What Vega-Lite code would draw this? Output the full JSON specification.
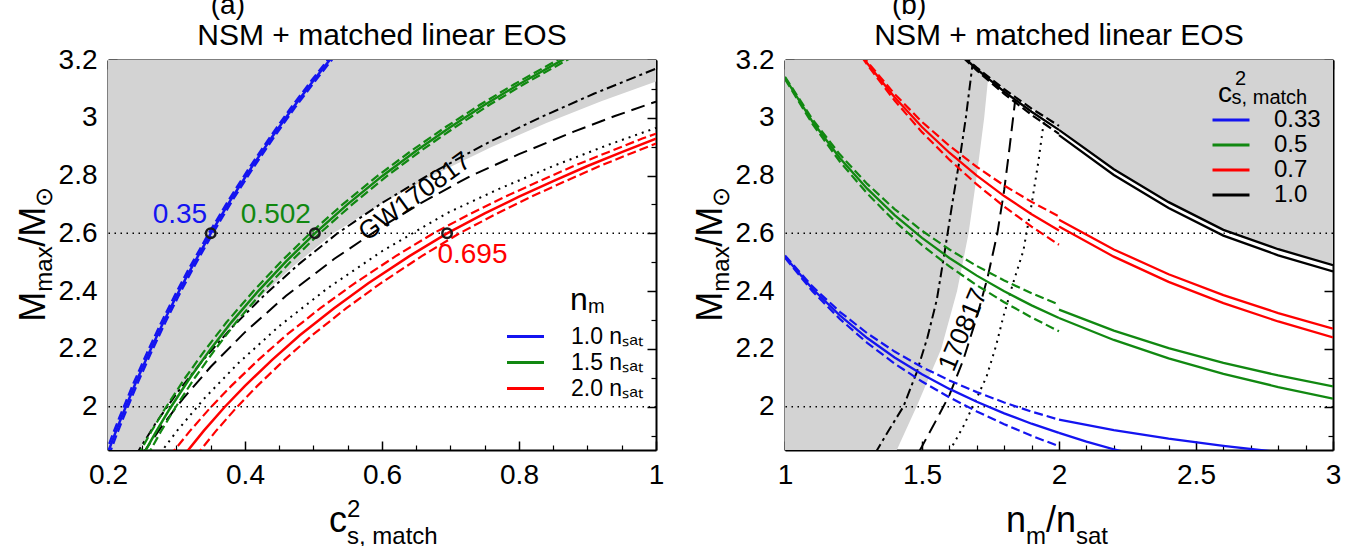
{
"$schema":"https://vega.github.io/schema/vega-lite/v6.json",
"autosize":{"type":"none"},
"padding":{"left":108,"top":60,"right":1263,"bottom":486},
"background":"white",
"spacing":129,
"bounds":"flush",
"config":{
 "font":"Liberation Sans",
 "view":{"stroke":null},
 "axis":{"grid":false,"tickColor":"black","domainColor":"black","labelColor":"black","labelFont":"Liberation Sans","labelFontSize":28,"labelFlush":false,"labelOverlap":false,"zindex":1},
 "legend":{"labelFont":"Liberation Sans","labelColor":"black"}
},
"resolve":{"scale":{"color":"independent","x":"independent","y":"independent","strokeDash":"independent"}},
"datasets":{
"curvesA":[
{"nm":"1.0","band":"c","x":0.198,"y":1.829},{"nm":"1.0","band":"c","x":0.21,"y":1.905},{"nm":"1.0","band":"c","x":0.22,"y":1.965},{"nm":"1.0","band":"c","x":0.24,"y":2.080},{"nm":"1.0","band":"c","x":0.26,"y":2.187},{"nm":"1.0","band":"c","x":0.28,"y":2.288},{"nm":"1.0","band":"c","x":0.30,"y":2.383},{"nm":"1.0","band":"c","x":0.32,"y":2.473},{"nm":"1.0","band":"c","x":0.35,"y":2.600},{"nm":"1.0","band":"c","x":0.38,"y":2.719},{"nm":"1.0","band":"c","x":0.41,"y":2.830},{"nm":"1.0","band":"c","x":0.44,"y":2.935},{"nm":"1.0","band":"c","x":0.47,"y":3.035},{"nm":"1.0","band":"c","x":0.50,"y":3.129},{"nm":"1.0","band":"c","x":0.53,"y":3.219},
{"nm":"1.0","band":"u","x":0.195,"y":1.829},{"nm":"1.0","band":"u","x":0.207,"y":1.905},{"nm":"1.0","band":"u","x":0.217,"y":1.965},{"nm":"1.0","band":"u","x":0.237,"y":2.080},{"nm":"1.0","band":"u","x":0.257,"y":2.187},{"nm":"1.0","band":"u","x":0.277,"y":2.288},{"nm":"1.0","band":"u","x":0.297,"y":2.383},{"nm":"1.0","band":"u","x":0.317,"y":2.473},{"nm":"1.0","band":"u","x":0.347,"y":2.600},{"nm":"1.0","band":"u","x":0.377,"y":2.719},{"nm":"1.0","band":"u","x":0.407,"y":2.830},{"nm":"1.0","band":"u","x":0.437,"y":2.935},{"nm":"1.0","band":"u","x":0.467,"y":3.035},{"nm":"1.0","band":"u","x":0.497,"y":3.129},{"nm":"1.0","band":"u","x":0.527,"y":3.219},
{"nm":"1.0","band":"l","x":0.201,"y":1.829},{"nm":"1.0","band":"l","x":0.213,"y":1.905},{"nm":"1.0","band":"l","x":0.223,"y":1.965},{"nm":"1.0","band":"l","x":0.243,"y":2.080},{"nm":"1.0","band":"l","x":0.263,"y":2.187},{"nm":"1.0","band":"l","x":0.283,"y":2.288},{"nm":"1.0","band":"l","x":0.303,"y":2.383},{"nm":"1.0","band":"l","x":0.323,"y":2.473},{"nm":"1.0","band":"l","x":0.353,"y":2.600},{"nm":"1.0","band":"l","x":0.383,"y":2.719},{"nm":"1.0","band":"l","x":0.413,"y":2.830},{"nm":"1.0","band":"l","x":0.443,"y":2.935},{"nm":"1.0","band":"l","x":0.473,"y":3.035},{"nm":"1.0","band":"l","x":0.503,"y":3.129},{"nm":"1.0","band":"l","x":0.533,"y":3.219},
{"nm":"1.5","band":"c","x":0.25,"y":1.828},{"nm":"1.5","band":"c","x":0.27,"y":1.913},{"nm":"1.5","band":"c","x":0.29,"y":1.992},{"nm":"1.5","band":"c","x":0.32,"y":2.101},{"nm":"1.5","band":"c","x":0.35,"y":2.200},{"nm":"1.5","band":"c","x":0.38,"y":2.292},{"nm":"1.5","band":"c","x":0.42,"y":2.402},{"nm":"1.5","band":"c","x":0.46,"y":2.503},{"nm":"1.5","band":"c","x":0.502,"y":2.600},{"nm":"1.5","band":"c","x":0.55,"y":2.701},{"nm":"1.5","band":"c","x":0.60,"y":2.798},{"nm":"1.5","band":"c","x":0.65,"y":2.886},{"nm":"1.5","band":"c","x":0.70,"y":2.968},{"nm":"1.5","band":"c","x":0.75,"y":3.045},{"nm":"1.5","band":"c","x":0.80,"y":3.116},{"nm":"1.5","band":"c","x":0.87,"y":3.209},
{"nm":"1.5","band":"u","x":0.243,"y":1.828},{"nm":"1.5","band":"u","x":0.263,"y":1.913},{"nm":"1.5","band":"u","x":0.283,"y":1.992},{"nm":"1.5","band":"u","x":0.313,"y":2.101},{"nm":"1.5","band":"u","x":0.343,"y":2.200},{"nm":"1.5","band":"u","x":0.373,"y":2.292},{"nm":"1.5","band":"u","x":0.413,"y":2.402},{"nm":"1.5","band":"u","x":0.453,"y":2.503},{"nm":"1.5","band":"u","x":0.495,"y":2.600},{"nm":"1.5","band":"u","x":0.543,"y":2.701},{"nm":"1.5","band":"u","x":0.593,"y":2.798},{"nm":"1.5","band":"u","x":0.643,"y":2.886},{"nm":"1.5","band":"u","x":0.693,"y":2.968},{"nm":"1.5","band":"u","x":0.743,"y":3.045},{"nm":"1.5","band":"u","x":0.793,"y":3.116},{"nm":"1.5","band":"u","x":0.863,"y":3.209},
{"nm":"1.5","band":"l","x":0.257,"y":1.828},{"nm":"1.5","band":"l","x":0.277,"y":1.913},{"nm":"1.5","band":"l","x":0.297,"y":1.992},{"nm":"1.5","band":"l","x":0.327,"y":2.101},{"nm":"1.5","band":"l","x":0.357,"y":2.200},{"nm":"1.5","band":"l","x":0.387,"y":2.292},{"nm":"1.5","band":"l","x":0.427,"y":2.402},{"nm":"1.5","band":"l","x":0.467,"y":2.503},{"nm":"1.5","band":"l","x":0.509,"y":2.600},{"nm":"1.5","band":"l","x":0.557,"y":2.701},{"nm":"1.5","band":"l","x":0.607,"y":2.798},{"nm":"1.5","band":"l","x":0.657,"y":2.886},{"nm":"1.5","band":"l","x":0.707,"y":2.968},{"nm":"1.5","band":"l","x":0.757,"y":3.045},{"nm":"1.5","band":"l","x":0.807,"y":3.116},{"nm":"1.5","band":"l","x":0.877,"y":3.209},
{"nm":"2.0","band":"c","x":0.31,"y":1.829},{"nm":"2.0","band":"c","x":0.34,"y":1.917},{"nm":"2.0","band":"c","x":0.37,"y":1.998},{"nm":"2.0","band":"c","x":0.40,"y":2.072},{"nm":"2.0","band":"c","x":0.44,"y":2.163},{"nm":"2.0","band":"c","x":0.48,"y":2.247},{"nm":"2.0","band":"c","x":0.53,"y":2.341},{"nm":"2.0","band":"c","x":0.58,"y":2.427},{"nm":"2.0","band":"c","x":0.64,"y":2.521},{"nm":"2.0","band":"c","x":0.695,"y":2.600},{"nm":"2.0","band":"c","x":0.75,"y":2.669},{"nm":"2.0","band":"c","x":0.80,"y":2.727},{"nm":"2.0","band":"c","x":0.85,"y":2.781},{"nm":"2.0","band":"c","x":0.90,"y":2.833},{"nm":"2.0","band":"c","x":0.95,"y":2.881},{"nm":"2.0","band":"c","x":1.0,"y":2.928},
{"nm":"2.0","band":"u","x":0.29,"y":1.829},{"nm":"2.0","band":"u","x":0.32,"y":1.917},{"nm":"2.0","band":"u","x":0.35,"y":1.998},{"nm":"2.0","band":"u","x":0.38,"y":2.072},{"nm":"2.0","band":"u","x":0.42,"y":2.163},{"nm":"2.0","band":"u","x":0.46,"y":2.247},{"nm":"2.0","band":"u","x":0.51,"y":2.341},{"nm":"2.0","band":"u","x":0.56,"y":2.427},{"nm":"2.0","band":"u","x":0.62,"y":2.521},{"nm":"2.0","band":"u","x":0.675,"y":2.600},{"nm":"2.0","band":"u","x":0.73,"y":2.669},{"nm":"2.0","band":"u","x":0.78,"y":2.727},{"nm":"2.0","band":"u","x":0.83,"y":2.781},{"nm":"2.0","band":"u","x":0.88,"y":2.833},{"nm":"2.0","band":"u","x":0.93,"y":2.881},{"nm":"2.0","band":"u","x":0.98,"y":2.928},{"nm":"2.0","band":"u","x":1.0,"y":2.945},
{"nm":"2.0","band":"l","x":0.328,"y":1.829},{"nm":"2.0","band":"l","x":0.358,"y":1.917},{"nm":"2.0","band":"l","x":0.388,"y":1.998},{"nm":"2.0","band":"l","x":0.418,"y":2.072},{"nm":"2.0","band":"l","x":0.458,"y":2.163},{"nm":"2.0","band":"l","x":0.498,"y":2.247},{"nm":"2.0","band":"l","x":0.548,"y":2.341},{"nm":"2.0","band":"l","x":0.598,"y":2.427},{"nm":"2.0","band":"l","x":0.658,"y":2.521},{"nm":"2.0","band":"l","x":0.713,"y":2.600},{"nm":"2.0","band":"l","x":0.768,"y":2.669},{"nm":"2.0","band":"l","x":0.818,"y":2.727},{"nm":"2.0","band":"l","x":0.868,"y":2.781},{"nm":"2.0","band":"l","x":0.918,"y":2.833},{"nm":"2.0","band":"l","x":0.968,"y":2.881},{"nm":"2.0","band":"l","x":1.0,"y":2.911}
],
"gwA":[
{"line":"dd","x":0.24,"y":1.830},{"line":"dd","x":0.27,"y":1.944},{"line":"dd","x":0.30,"y":2.045},{"line":"dd","x":0.34,"y":2.165},{"line":"dd","x":0.38,"y":2.272},{"line":"dd","x":0.43,"y":2.390},{"line":"dd","x":0.48,"y":2.496},{"line":"dd","x":0.535,"y":2.600},{"line":"dd","x":0.60,"y":2.705},{"line":"dd","x":0.67,"y":2.805},{"line":"dd","x":0.75,"y":2.908},{"line":"dd","x":0.83,"y":3.000},{"line":"dd","x":0.91,"y":3.084},{"line":"dd","x":1.0,"y":3.170},
{"line":"ld","x":0.25,"y":1.835},{"line":"ld","x":0.28,"y":1.937},{"line":"ld","x":0.31,"y":2.029},{"line":"ld","x":0.35,"y":2.138},{"line":"ld","x":0.40,"y":2.258},{"line":"ld","x":0.46,"y":2.384},{"line":"ld","x":0.53,"y":2.511},{"line":"ld","x":0.60,"y":2.623},{"line":"ld","x":0.66,"y":2.709},{"line":"ld","x":0.728,"y":2.797},{"line":"ld","x":0.80,"y":2.874},{"line":"ld","x":0.88,"y":2.952},{"line":"ld","x":0.94,"y":3.006},{"line":"ld","x":1.0,"y":3.056},
{"line":"dt","x":0.27,"y":1.819},{"line":"dt","x":0.30,"y":1.914},{"line":"dt","x":0.34,"y":2.027},{"line":"dt","x":0.39,"y":2.150},{"line":"dt","x":0.45,"y":2.279},{"line":"dt","x":0.52,"y":2.409},{"line":"dt","x":0.60,"y":2.538},{"line":"dt","x":0.695,"y":2.670},{"line":"dt","x":0.77,"y":2.753},{"line":"dt","x":0.85,"y":2.833},{"line":"dt","x":0.93,"y":2.906},{"line":"dt","x":1.0,"y":2.965}
],
"grayA":[
{"x":0.2,"y":1.653},{"x":0.245,"y":1.850},{"x":0.28,"y":1.980},{"x":0.32,"y":2.110},{"x":0.37,"y":2.252},{"x":0.42,"y":2.375},{"x":0.47,"y":2.485},{"x":0.529,"y":2.600},{"x":0.60,"y":2.704},{"x":0.68,"y":2.807},{"x":0.76,"y":2.899},{"x":0.84,"y":2.982},{"x":0.92,"y":3.057},{"x":1.0,"y":3.126}
],
"curvesB":[
{"c2":"0.33","band":"c","x":1.0,"y":2.519},{"c2":"0.33","band":"c","x":1.1,"y":2.408},{"c2":"0.33","band":"c","x":1.2,"y":2.316},{"c2":"0.33","band":"c","x":1.3,"y":2.2375},{"c2":"0.33","band":"c","x":1.4,"y":2.170},{"c2":"0.33","band":"c","x":1.5,"y":2.112},{"c2":"0.33","band":"c","x":1.6,"y":2.0615},{"c2":"0.33","band":"c","x":1.7,"y":2.017},{"c2":"0.33","band":"c","x":1.8,"y":1.977},{"c2":"0.33","band":"c","x":1.9,"y":1.941},{"c2":"0.33","band":"c","x":2.0,"y":1.909},
{"c2":"0.33","band":"u","x":1.0,"y":2.523},{"c2":"0.33","band":"u","x":1.1,"y":2.4162},{"c2":"0.33","band":"u","x":1.2,"y":2.3284},{"c2":"0.33","band":"u","x":1.3,"y":2.2541},{"c2":"0.33","band":"u","x":1.4,"y":2.1908},{"c2":"0.33","band":"u","x":1.5,"y":2.137},{"c2":"0.33","band":"u","x":1.6,"y":2.0907},{"c2":"0.33","band":"u","x":1.7,"y":2.0504},{"c2":"0.33","band":"u","x":1.8,"y":2.0146},{"c2":"0.33","band":"u","x":1.9,"y":1.9828},{"c2":"0.33","band":"u","x":2.0,"y":1.955},
{"c2":"0.33","band":"l","x":1.0,"y":2.515},{"c2":"0.33","band":"l","x":1.1,"y":2.3998},{"c2":"0.33","band":"l","x":1.2,"y":2.3036},{"c2":"0.33","band":"l","x":1.3,"y":2.2209},{"c2":"0.33","band":"l","x":1.4,"y":2.1492},{"c2":"0.33","band":"l","x":1.5,"y":2.087},{"c2":"0.33","band":"l","x":1.6,"y":2.0323},{"c2":"0.33","band":"l","x":1.7,"y":1.9836},{"c2":"0.33","band":"l","x":1.8,"y":1.9394},{"c2":"0.33","band":"l","x":1.9,"y":1.8992},{"c2":"0.33","band":"l","x":2.0,"y":1.863},
{"c2":"0.33","band":"p1","x":2.0,"y":1.955},{"c2":"0.33","band":"p1","x":2.2,"y":1.919},{"c2":"0.33","band":"p1","x":2.4,"y":1.889},{"c2":"0.33","band":"p1","x":2.6,"y":1.864},{"c2":"0.33","band":"p1","x":2.8,"y":1.843},{"c2":"0.33","band":"p1","x":3.0,"y":1.824},
{"c2":"0.33","band":"p2","x":2.0,"y":1.909},{"c2":"0.33","band":"p2","x":2.1,"y":1.879},{"c2":"0.33","band":"p2","x":2.2,"y":1.8525},{"c2":"0.33","band":"p2","x":2.3,"y":1.828},
{"c2":"0.5","band":"c","x":1.0,"y":3.138},{"c2":"0.5","band":"c","x":1.1,"y":2.987},{"c2":"0.5","band":"c","x":1.2,"y":2.861},{"c2":"0.5","band":"c","x":1.3,"y":2.7545},{"c2":"0.5","band":"c","x":1.4,"y":2.663},{"c2":"0.5","band":"c","x":1.5,"y":2.584},{"c2":"0.5","band":"c","x":1.6,"y":2.5148},{"c2":"0.5","band":"c","x":1.7,"y":2.4536},{"c2":"0.5","band":"c","x":1.8,"y":2.3993},{"c2":"0.5","band":"c","x":1.9,"y":2.3507},{"c2":"0.5","band":"c","x":2.0,"y":2.307},
{"c2":"0.5","band":"u","x":1.0,"y":3.142},{"c2":"0.5","band":"u","x":1.1,"y":2.9952},{"c2":"0.5","band":"u","x":1.2,"y":2.8734},{"c2":"0.5","band":"u","x":1.3,"y":2.7711},{"c2":"0.5","band":"u","x":1.4,"y":2.6838},{"c2":"0.5","band":"u","x":1.5,"y":2.609},{"c2":"0.5","band":"u","x":1.6,"y":2.544},{"c2":"0.5","band":"u","x":1.7,"y":2.487},{"c2":"0.5","band":"u","x":1.8,"y":2.4369},{"c2":"0.5","band":"u","x":1.9,"y":2.3925},{"c2":"0.5","band":"u","x":2.0,"y":2.353},
{"c2":"0.5","band":"l","x":1.0,"y":3.134},{"c2":"0.5","band":"l","x":1.1,"y":2.9788},{"c2":"0.5","band":"l","x":1.2,"y":2.8486},{"c2":"0.5","band":"l","x":1.3,"y":2.7379},{"c2":"0.5","band":"l","x":1.4,"y":2.6422},{"c2":"0.5","band":"l","x":1.5,"y":2.559},{"c2":"0.5","band":"l","x":1.6,"y":2.4856},{"c2":"0.5","band":"l","x":1.7,"y":2.4202},{"c2":"0.5","band":"l","x":1.8,"y":2.3617},{"c2":"0.5","band":"l","x":1.9,"y":2.3089},{"c2":"0.5","band":"l","x":2.0,"y":2.261},
{"c2":"0.5","band":"p1","x":2.0,"y":2.336},{"c2":"0.5","band":"p1","x":2.2,"y":2.2635},{"c2":"0.5","band":"p1","x":2.4,"y":2.203},{"c2":"0.5","band":"p1","x":2.6,"y":2.1518},{"c2":"0.5","band":"p1","x":2.8,"y":2.108},{"c2":"0.5","band":"p1","x":3.0,"y":2.07},
{"c2":"0.5","band":"p2","x":2.0,"y":2.307},{"c2":"0.5","band":"p2","x":2.2,"y":2.2309},{"c2":"0.5","band":"p2","x":2.4,"y":2.1675},{"c2":"0.5","band":"p2","x":2.6,"y":2.1138},{"c2":"0.5","band":"p2","x":2.8,"y":2.0679},{"c2":"0.5","band":"p2","x":3.0,"y":2.028},
{"c2":"0.7","band":"c","x":1.28,"y":3.215},{"c2":"0.7","band":"c","x":1.3,"y":3.189},{"c2":"0.7","band":"c","x":1.4,"y":3.071},{"c2":"0.7","band":"c","x":1.5,"y":2.968},{"c2":"0.7","band":"c","x":1.6,"y":2.879},{"c2":"0.7","band":"c","x":1.7,"y":2.7995},{"c2":"0.7","band":"c","x":1.8,"y":2.729},{"c2":"0.7","band":"c","x":1.9,"y":2.666},{"c2":"0.7","band":"c","x":2.0,"y":2.6095},
{"c2":"0.7","band":"u","x":1.28,"y":3.219},{"c2":"0.7","band":"u","x":1.3,"y":3.1943},{"c2":"0.7","band":"u","x":1.4,"y":3.0825},{"c2":"0.7","band":"u","x":1.5,"y":2.9857},{"c2":"0.7","band":"u","x":1.6,"y":2.903},{"c2":"0.7","band":"u","x":1.7,"y":2.8297},{"c2":"0.7","band":"u","x":1.8,"y":2.7655},{"c2":"0.7","band":"u","x":1.9,"y":2.7088},{"c2":"0.7","band":"u","x":2.0,"y":2.6585},
{"c2":"0.7","band":"l","x":1.28,"y":3.211},{"c2":"0.7","band":"l","x":1.3,"y":3.1837},{"c2":"0.7","band":"l","x":1.4,"y":3.0595},{"c2":"0.7","band":"l","x":1.5,"y":2.9503},{"c2":"0.7","band":"l","x":1.6,"y":2.855},{"c2":"0.7","band":"l","x":1.7,"y":2.7693},{"c2":"0.7","band":"l","x":1.8,"y":2.6925},{"c2":"0.7","band":"l","x":1.9,"y":2.6232},{"c2":"0.7","band":"l","x":2.0,"y":2.5605},
{"c2":"0.7","band":"p1","x":2.0,"y":2.647},{"c2":"0.7","band":"p1","x":2.2,"y":2.5442},{"c2":"0.7","band":"p1","x":2.4,"y":2.4585},{"c2":"0.7","band":"p1","x":2.6,"y":2.386},{"c2":"0.7","band":"p1","x":2.8,"y":2.3239},{"c2":"0.7","band":"p1","x":3.0,"y":2.27},
{"c2":"0.7","band":"p2","x":2.0,"y":2.624},{"c2":"0.7","band":"p2","x":2.2,"y":2.5193},{"c2":"0.7","band":"p2","x":2.4,"y":2.432},{"c2":"0.7","band":"p2","x":2.6,"y":2.3582},{"c2":"0.7","band":"p2","x":2.8,"y":2.2949},{"c2":"0.7","band":"p2","x":3.0,"y":2.24},
{"c2":"1.0","band":"c","x":1.65,"y":3.2114},{"c2":"1.0","band":"c","x":1.7,"y":3.1688},{"c2":"1.0","band":"c","x":1.8,"y":3.0907},{"c2":"1.0","band":"c","x":1.9,"y":3.0209},{"c2":"1.0","band":"c","x":2.0,"y":2.958},
{"c2":"1.0","band":"u","x":1.65,"y":3.2144},{"c2":"1.0","band":"u","x":1.7,"y":3.1738},{"c2":"1.0","band":"u","x":1.8,"y":3.0987},{"c2":"1.0","band":"u","x":1.9,"y":3.0319},{"c2":"1.0","band":"u","x":2.0,"y":2.972},
{"c2":"1.0","band":"l","x":1.65,"y":3.2084},{"c2":"1.0","band":"l","x":1.7,"y":3.1638},{"c2":"1.0","band":"l","x":1.8,"y":3.0827},{"c2":"1.0","band":"l","x":1.9,"y":3.0099},{"c2":"1.0","band":"l","x":2.0,"y":2.944},
{"c2":"1.0","band":"p1","x":2.0,"y":2.958},{"c2":"1.0","band":"p1","x":2.2,"y":2.822},{"c2":"1.0","band":"p1","x":2.4,"y":2.708},{"c2":"1.0","band":"p1","x":2.6,"y":2.612},{"c2":"1.0","band":"p1","x":2.8,"y":2.545},{"c2":"1.0","band":"p1","x":3.0,"y":2.49},
{"c2":"1.0","band":"p2","x":2.0,"y":2.94},{"c2":"1.0","band":"p2","x":2.2,"y":2.802},{"c2":"1.0","band":"p2","x":2.4,"y":2.688},{"c2":"1.0","band":"p2","x":2.6,"y":2.592},{"c2":"1.0","band":"p2","x":2.8,"y":2.524},{"c2":"1.0","band":"p2","x":3.0,"y":2.468}
],
"gwB":[
{"line":"dd","x":1.33,"y":1.84},{"line":"dd","x":1.38,"y":1.92},{"line":"dd","x":1.432,"y":2.0},{"line":"dd","x":1.48,"y":2.117},{"line":"dd","x":1.52,"y":2.24},{"line":"dd","x":1.554,"y":2.37},{"line":"dd","x":1.584,"y":2.543},{"line":"dd","x":1.61,"y":2.70},{"line":"dd","x":1.639,"y":2.866},{"line":"dd","x":1.66,"y":3.0},{"line":"dd","x":1.684,"y":3.182},
{"line":"ld","x":1.49,"y":1.845},{"line":"ld","x":1.55,"y":1.95},{"line":"ld","x":1.60,"y":2.04},{"line":"ld","x":1.65,"y":2.16},{"line":"ld","x":1.70,"y":2.31},{"line":"ld","x":1.74,"y":2.45},{"line":"ld","x":1.775,"y":2.60},{"line":"ld","x":1.80,"y":2.75},{"line":"ld","x":1.82,"y":2.90},{"line":"ld","x":1.84,"y":3.06},
{"line":"dt","x":1.60,"y":1.845},{"line":"dt","x":1.65,"y":1.93},{"line":"dt","x":1.70,"y":2.03},{"line":"dt","x":1.736,"y":2.105},{"line":"dt","x":1.77,"y":2.21},{"line":"dt","x":1.797,"y":2.312},{"line":"dt","x":1.83,"y":2.42},{"line":"dt","x":1.87,"y":2.54},{"line":"dt","x":1.90,"y":2.70},{"line":"dt","x":1.925,"y":2.85},{"line":"dt","x":1.945,"y":2.99}
],
"grayBL":[
{"x":1.385,"y":1.80},{"x":1.408,"y":1.85},{"x":1.48,"y":2.0},{"x":1.57,"y":2.2},{"x":1.628,"y":2.4},{"x":1.67,"y":2.6},{"x":1.70,"y":2.8},{"x":1.727,"y":3.0},{"x":1.748,"y":3.2},{"x":1.75,"y":3.25}
],
"grayBT":[
{"x":1.65,"y":3.2144},{"x":1.7,"y":3.1738},{"x":1.8,"y":3.0987},{"x":1.9,"y":3.0319},{"x":2.0,"y":2.965},{"x":2.2,"y":2.822},{"x":2.4,"y":2.708},{"x":2.6,"y":2.612},{"x":2.8,"y":2.545},{"x":3.0,"y":2.49}
]
},
"hconcat":[
{
"width":548,"height":390,
"resolve":{"axis":{"x":"independent","y":"independent"},"scale":{"color":"independent"}},
"layer":[
{"data":{"name":"grayA"},"mark":{"type":"area","color":"#d3d3d3","clip":true},
 "encoding":{
  "x":{"field":"x","type":"quantitative","scale":{"domain":[0.2,1],"nice":false,"zero":false},"axis":{"orient":"bottom","values":[0.2,0.4,0.6,0.8,1],"format":"~g","tickSize":-9,"tickWidth":1.5,"labelPadding":20,"title":null,"domain":true,"domainWidth":2}},
  "y":{"field":"y","type":"quantitative","scale":{"domain":[1.85,3.2],"nice":false,"zero":false},"axis":{"orient":"left","values":[2,2.2,2.4,2.6,2.8,3,3.2],"format":"~g","tickSize":-9,"tickWidth":1.5,"labelPadding":20,"title":null,"domain":true,"domainWidth":2}},
  "y2":{"datum":3.2}}},
{"data":{"values":[{"y":2.0},{"y":2.6}]},"mark":{"type":"rule","color":"black","strokeWidth":1.5,"strokeDash":[1.5,4.5]},
 "encoding":{"y":{"field":"y","type":"quantitative","scale":{"domain":[1.85,3.2],"nice":false,"zero":false},"axis":null}}},
{"data":{"name":"gwA"},"mark":{"type":"line","color":"black","strokeWidth":2,"clip":true},
 "encoding":{
  "x":{"field":"x","type":"quantitative","scale":{"domain":[0.2,1],"nice":false,"zero":false},"axis":{"orient":"top","values":[0.25,0.3,0.35,0.45,0.5,0.55,0.65,0.7,0.75,0.85,0.9,0.95],"tickSize":-5,"tickWidth":1.2,"labels":false,"domain":false,"title":null}},
  "y":{"field":"y","type":"quantitative","scale":{"domain":[1.85,3.2],"nice":false,"zero":false},"axis":{"orient":"right","values":[1.9,2.1,2.3,2.5,2.7,2.9,3.1],"tickSize":-5,"tickWidth":1.2,"labels":false,"domain":false,"title":null}},
  "strokeDash":{"field":"line","type":"nominal","scale":{"domain":["dd","ld","dt"],"range":[[10,4,3,4],[14,7],[2,5]]},"legend":null}}},
{"data":{"name":"curvesA"},"transform":[{"filter":"datum.band != 'c'"}],"mark":{"type":"line","strokeWidth":2.2,"strokeDash":[9,4],"clip":true},
 "encoding":{
  "x":{"field":"x","type":"quantitative","scale":{"domain":[0.2,1],"nice":false,"zero":false},"axis":{"orient":"bottom","values":[0.25,0.3,0.35,0.45,0.5,0.55,0.65,0.7,0.75,0.85,0.9,0.95],"tickSize":-5,"tickWidth":1.2,"labels":false,"domain":false,"title":null}},
  "y":{"field":"y","type":"quantitative","scale":{"domain":[1.85,3.2],"nice":false,"zero":false},"axis":{"orient":"left","values":[1.9,2.1,2.3,2.5,2.7,2.9,3.1],"tickSize":-5,"tickWidth":1.2,"labels":false,"domain":false,"title":null}},
  "color":{"field":"nm","type":"nominal","scale":{"domain":["1.0","1.5","2.0"],"range":["#1414f0","#118811","#ff0000"]},"legend":null},
  "detail":{"field":"band"}}},
{"data":{"name":"curvesA"},"transform":[{"filter":"datum.band == 'c'"}],"mark":{"type":"line","strokeWidth":2.5,"clip":true},
 "encoding":{
  "x":{"field":"x","type":"quantitative","scale":{"domain":[0.2,1],"nice":false,"zero":false},"axis":{"orient":"top","values":[0.2,0.4,0.6,0.8,1],"tickSize":-9,"tickWidth":1.5,"labels":false,"title":null,"domain":true,"domainWidth":2}},
  "y":{"field":"y","type":"quantitative","scale":{"domain":[1.85,3.2],"nice":false,"zero":false},"axis":{"orient":"right","values":[2,2.2,2.4,2.6,2.8,3,3.2],"tickSize":-9,"tickWidth":1.5,"labels":false,"title":null,"domain":true,"domainWidth":2}},
  "color":{"field":"nm","type":"nominal","scale":{"domain":["1.0","1.5","2.0"],"range":["#1414f0","#118811","#ff0000"]},
   "legend":{"orient":"none","legendX":406,"legendY":265,"title":null,"padding":0,"symbolType":"M-3,0H3","symbolSize":152,"symbolStrokeWidth":3,"labelFontSize":23,"labelOffset":34,"rowPadding":2,"labelExpr":"datum.label + ' nₛₐₜ'"}}}},
{"data":{"values":[{"x":0.35,"y":2.6},{"x":0.502,"y":2.6},{"x":0.695,"y":2.6}]},"mark":{"type":"point","shape":"circle","filled":false,"color":"#1a1a1a","strokeWidth":2.5,"size":90,"opacity":1},
 "encoding":{"x":{"field":"x","type":"quantitative","scale":{"domain":[0.2,1],"nice":false,"zero":false},"axis":null},"y":{"field":"y","type":"quantitative","scale":{"domain":[1.85,3.2],"nice":false,"zero":false},"axis":null}}},
{"data":{"values":[{"x":0.305,"y":2.636,"t":"0.35","nm":"1.0"},{"x":0.445,"y":2.636,"t":"0.502","nm":"1.5"},{"x":0.732,"y":2.498,"t":"0.695","nm":"2.0"}]},"mark":{"type":"text","fontSize":28,"align":"center","baseline":"alphabetic"},
 "encoding":{"x":{"field":"x","type":"quantitative","scale":{"domain":[0.2,1],"nice":false,"zero":false},"axis":null},"y":{"field":"y","type":"quantitative","scale":{"domain":[1.85,3.2],"nice":false,"zero":false},"axis":null},"text":{"field":"t"},
  "color":{"field":"nm","type":"nominal","scale":{"domain":["1.0","1.5","2.0"],"range":["#1414f0","#118811","#ff0000"]},"legend":null}}},
{"data":{"values":[{"x":0.648,"y":2.727,"t":"GW170817"}]},"mark":{"type":"text","fontSize":26,"angle":324,"align":"center","baseline":"middle","color":"black"},
 "encoding":{"x":{"field":"x","type":"quantitative","scale":{"domain":[0.2,1],"nice":false,"zero":false},"axis":null},"y":{"field":"y","type":"quantitative","scale":{"domain":[1.85,3.2],"nice":false,"zero":false},"axis":null},"text":{"field":"t"}}},
{"data":{"values":[{"x":0.6,"y":3.252,"t":"NSM + matched linear EOS"}]},"mark":{"type":"text","fontSize":30,"align":"center","baseline":"alphabetic","color":"black"},
 "encoding":{"x":{"field":"x","type":"quantitative","scale":{"domain":[0.2,1],"nice":false,"zero":false},"axis":null},"y":{"field":"y","type":"quantitative","scale":{"domain":[1.85,3.2],"nice":false,"zero":false},"axis":null},"text":{"field":"t"}}},
{"data":{"values":[{"x":0.5226,"y":1.5675,"t":"c"}]},"mark":{"type":"text","fontSize":36,"align":"left","baseline":"alphabetic","color":"black"},
 "encoding":{"x":{"field":"x","type":"quantitative","scale":{"domain":[0.2,1],"nice":false,"zero":false},"axis":null},"y":{"field":"y","type":"quantitative","scale":{"domain":[1.85,3.2],"nice":false,"zero":false},"axis":null},"text":{"field":"t"}}},
{"data":{"values":[{"x":0.5489,"y":1.526,"t":"s, match"},{"x":0.5489,"y":1.619,"t":"2"}]},"mark":{"type":"text","fontSize":24,"align":"left","baseline":"alphabetic","color":"black"},
 "encoding":{"x":{"field":"x","type":"quantitative","scale":{"domain":[0.2,1],"nice":false,"zero":false},"axis":null},"y":{"field":"y","type":"quantitative","scale":{"domain":[1.85,3.2],"nice":false,"zero":false},"axis":null},"text":{"field":"t"}}},
{"data":{"values":[{"x":0.108,"y":2.294,"t":"M"},{"x":0.108,"y":2.5536,"t":"/M"}]},"mark":{"type":"text","fontSize":36,"angle":270,"align":"left","baseline":"alphabetic","color":"black"},
 "encoding":{"x":{"field":"x","type":"quantitative","scale":{"domain":[0.2,1],"nice":false,"zero":false},"axis":null},"y":{"field":"y","type":"quantitative","scale":{"domain":[1.85,3.2],"nice":false,"zero":false},"axis":null},"text":{"field":"t"}}},
{"data":{"values":[{"x":0.1182,"y":2.398,"t":"max"},{"x":0.1182,"y":2.692,"t":"⊙"}]},"mark":{"type":"text","fontSize":24,"angle":270,"align":"left","baseline":"alphabetic","color":"black"},
 "encoding":{"x":{"field":"x","type":"quantitative","scale":{"domain":[0.2,1],"nice":false,"zero":false},"axis":null},"y":{"field":"y","type":"quantitative","scale":{"domain":[1.85,3.2],"nice":false,"zero":false},"axis":null},"text":{"field":"t"}}},
{"data":{"values":[{"x":0.375,"y":3.358,"t":"(a)"}]},"mark":{"type":"text","fontSize":28,"align":"center","baseline":"alphabetic","color":"black"},
 "encoding":{"x":{"field":"x","type":"quantitative","scale":{"domain":[0.2,1],"nice":false,"zero":false},"axis":null},"y":{"field":"y","type":"quantitative","scale":{"domain":[1.85,3.2],"nice":false,"zero":false},"axis":null},"text":{"field":"t"}}},
{"data":{"values":[{"x":0.8745,"y":2.336,"t":"n"}]},"mark":{"type":"text","fontSize":32,"align":"left","baseline":"alphabetic","color":"black"},
 "encoding":{"x":{"field":"x","type":"quantitative","scale":{"domain":[0.2,1],"nice":false,"zero":false},"axis":null},"y":{"field":"y","type":"quantitative","scale":{"domain":[1.85,3.2],"nice":false,"zero":false},"axis":null},"text":{"field":"t"}}},
{"data":{"values":[{"x":0.9007,"y":2.324,"t":"m"}]},"mark":{"type":"text","fontSize":20,"align":"left","baseline":"alphabetic","color":"black"},
 "encoding":{"x":{"field":"x","type":"quantitative","scale":{"domain":[0.2,1],"nice":false,"zero":false},"axis":null},"y":{"field":"y","type":"quantitative","scale":{"domain":[1.85,3.2],"nice":false,"zero":false},"axis":null},"text":{"field":"t"}}}
]
},
{
"width":548,"height":390,
"resolve":{"axis":{"x":"independent","y":"independent"},"scale":{"color":"independent"}},
"layer":[
{"data":{"name":"grayBL"},"mark":{"type":"area","orient":"horizontal","color":"#d3d3d3","clip":true},
 "encoding":{
  "x":{"field":"x","type":"quantitative","scale":{"domain":[1,3],"nice":false,"zero":false},"axis":{"orient":"bottom","values":[1,1.5,2,2.5,3],"format":"~g","tickSize":-9,"tickWidth":1.5,"labelPadding":20,"title":null,"domain":true,"domainWidth":2}},
  "x2":{"datum":1},
  "y":{"field":"y","type":"quantitative","scale":{"domain":[1.85,3.2],"nice":false,"zero":false},"axis":{"orient":"left","values":[2,2.2,2.4,2.6,2.8,3,3.2],"format":"~g","tickSize":-9,"tickWidth":1.5,"labelPadding":20,"title":null,"domain":true,"domainWidth":2}}}},
{"data":{"name":"grayBT"},"mark":{"type":"area","color":"#d3d3d3","clip":true},
 "encoding":{
  "x":{"field":"x","type":"quantitative","scale":{"domain":[1,3],"nice":false,"zero":false},"axis":{"orient":"bottom","values":[1.1,1.2,1.3,1.4,1.6,1.7,1.8,1.9,2.1,2.2,2.3,2.4,2.6,2.7,2.8,2.9],"tickSize":-5,"tickWidth":1.2,"labels":false,"domain":false,"title":null}},
  "y":{"field":"y","type":"quantitative","scale":{"domain":[1.85,3.2],"nice":false,"zero":false},"axis":{"orient":"left","values":[1.9,2.1,2.3,2.5,2.7,2.9,3.1],"tickSize":-5,"tickWidth":1.2,"labels":false,"domain":false,"title":null}},
  "y2":{"datum":3.2}}},
{"data":{"values":[{"y":2.0},{"y":2.6}]},"mark":{"type":"rule","color":"black","strokeWidth":1.5,"strokeDash":[1.5,4.5]},
 "encoding":{"y":{"field":"y","type":"quantitative","scale":{"domain":[1.85,3.2],"nice":false,"zero":false},"axis":null}}},
{"data":{"name":"gwB"},"mark":{"type":"line","color":"black","strokeWidth":2,"clip":true},
 "encoding":{
  "x":{"field":"x","type":"quantitative","scale":{"domain":[1,3],"nice":false,"zero":false},"axis":null},
  "y":{"field":"y","type":"quantitative","scale":{"domain":[1.85,3.2],"nice":false,"zero":false},"axis":null},
  "strokeDash":{"field":"line","type":"nominal","scale":{"domain":["dd","ld","dt"],"range":[[10,4,3,4],[14,7],[2,5]]},"legend":null}}},
{"data":{"name":"curvesB"},"transform":[{"filter":"datum.band == 'u' || datum.band == 'l'"}],"mark":{"type":"line","strokeWidth":2.2,"strokeDash":[9,4],"clip":true},
 "encoding":{
  "x":{"field":"x","type":"quantitative","scale":{"domain":[1,3],"nice":false,"zero":false},"axis":{"orient":"top","values":[1,1.5,2,2.5,3],"tickSize":-9,"tickWidth":1.5,"labels":false,"title":null,"domain":true,"domainWidth":2}},
  "y":{"field":"y","type":"quantitative","scale":{"domain":[1.85,3.2],"nice":false,"zero":false},"axis":{"orient":"right","values":[2,2.2,2.4,2.6,2.8,3,3.2],"tickSize":-9,"tickWidth":1.5,"labels":false,"title":null,"domain":true,"domainWidth":2}},
  "color":{"field":"c2","type":"nominal","scale":{"domain":["0.33","0.5","0.7","1.0"],"range":["#1414f0","#118811","#ff0000","#000000"]},"legend":null},
  "detail":{"field":"band"}}},
{"data":{"name":"curvesB"},"transform":[{"filter":"datum.band == 'c' || datum.band == 'p1' || datum.band == 'p2'"}],"mark":{"type":"line","strokeWidth":2.3,"clip":true},
 "encoding":{
  "x":{"field":"x","type":"quantitative","scale":{"domain":[1,3],"nice":false,"zero":false},"axis":{"orient":"top","values":[1.1,1.2,1.3,1.4,1.6,1.7,1.8,1.9,2.1,2.2,2.3,2.4,2.6,2.7,2.8,2.9],"tickSize":-5,"tickWidth":1.2,"labels":false,"domain":false,"title":null}},
  "y":{"field":"y","type":"quantitative","scale":{"domain":[1.85,3.2],"nice":false,"zero":false},"axis":{"orient":"right","values":[1.9,2.1,2.3,2.5,2.7,2.9,3.1],"tickSize":-5,"tickWidth":1.2,"labels":false,"domain":false,"title":null}},
  "color":{"field":"c2","type":"nominal","scale":{"domain":["0.33","0.5","0.7","1.0"],"range":["#1414f0","#118811","#ff0000","#000000"]},
   "legend":{"orient":"none","legendX":434,"legendY":48,"title":null,"padding":0,"symbolType":"M-3,0H3","symbolSize":152,"symbolStrokeWidth":3,"labelFontSize":24,"labelOffset":31,"rowPadding":1}},
  "detail":{"field":"band"}}},
{"data":{"values":[{"x":1.65,"y":2.266,"t":"170817"}]},"mark":{"type":"text","fontSize":26,"angle":293,"align":"center","baseline":"middle","color":"black"},
 "encoding":{"x":{"field":"x","type":"quantitative","scale":{"domain":[1,3],"nice":false,"zero":false},"axis":null},"y":{"field":"y","type":"quantitative","scale":{"domain":[1.85,3.2],"nice":false,"zero":false},"axis":null},"text":{"field":"t"}}},
{"data":{"values":[{"x":2.0,"y":3.252,"t":"NSM + matched linear EOS"}]},"mark":{"type":"text","fontSize":30,"align":"center","baseline":"alphabetic","color":"black"},
 "encoding":{"x":{"field":"x","type":"quantitative","scale":{"domain":[1,3],"nice":false,"zero":false},"axis":null},"y":{"field":"y","type":"quantitative","scale":{"domain":[1.85,3.2],"nice":false,"zero":false},"axis":null},"text":{"field":"t"}}},
{"data":{"values":[{"x":1.8066,"y":1.5675,"t":"n"},{"x":1.9526,"y":1.5675,"t":"/"},{"x":1.989,"y":1.5675,"t":"n"}]},"mark":{"type":"text","fontSize":36,"align":"left","baseline":"alphabetic","color":"black"},
 "encoding":{"x":{"field":"x","type":"quantitative","scale":{"domain":[1,3],"nice":false,"zero":false},"axis":null},"y":{"field":"y","type":"quantitative","scale":{"domain":[1.85,3.2],"nice":false,"zero":false},"axis":null},"text":{"field":"t"}}},
{"data":{"values":[{"x":1.8796,"y":1.526,"t":"m"},{"x":2.062,"y":1.526,"t":"sat"}]},"mark":{"type":"text","fontSize":24,"align":"left","baseline":"alphabetic","color":"black"},
 "encoding":{"x":{"field":"x","type":"quantitative","scale":{"domain":[1,3],"nice":false,"zero":false},"axis":null},"y":{"field":"y","type":"quantitative","scale":{"domain":[1.85,3.2],"nice":false,"zero":false},"axis":null},"text":{"field":"t"}}},
{"data":{"values":[{"x":0.770,"y":2.294,"t":"M"},{"x":0.770,"y":2.5536,"t":"/M"}]},"mark":{"type":"text","fontSize":36,"angle":270,"align":"left","baseline":"alphabetic","color":"black"},
 "encoding":{"x":{"field":"x","type":"quantitative","scale":{"domain":[1,3],"nice":false,"zero":false},"axis":null},"y":{"field":"y","type":"quantitative","scale":{"domain":[1.85,3.2],"nice":false,"zero":false},"axis":null},"text":{"field":"t"}}},
{"data":{"values":[{"x":0.7956,"y":2.398,"t":"max"},{"x":0.7956,"y":2.692,"t":"⊙"}]},"mark":{"type":"text","fontSize":24,"angle":270,"align":"left","baseline":"alphabetic","color":"black"},
 "encoding":{"x":{"field":"x","type":"quantitative","scale":{"domain":[1,3],"nice":false,"zero":false},"axis":null},"y":{"field":"y","type":"quantitative","scale":{"domain":[1.85,3.2],"nice":false,"zero":false},"axis":null},"text":{"field":"t"}}},
{"data":{"values":[{"x":1.453,"y":3.358,"t":"(b)"}]},"mark":{"type":"text","fontSize":28,"align":"center","baseline":"alphabetic","color":"black"},
 "encoding":{"x":{"field":"x","type":"quantitative","scale":{"domain":[1,3],"nice":false,"zero":false},"axis":null},"y":{"field":"y","type":"quantitative","scale":{"domain":[1.85,3.2],"nice":false,"zero":false},"axis":null},"text":{"field":"t"}}},
{"data":{"values":[{"x":2.58,"y":3.056,"t":"c"}]},"mark":{"type":"text","fontSize":28,"align":"left","baseline":"alphabetic","color":"black"},
 "encoding":{"x":{"field":"x","type":"quantitative","scale":{"domain":[1,3],"nice":false,"zero":false},"axis":null},"y":{"field":"y","type":"quantitative","scale":{"domain":[1.85,3.2],"nice":false,"zero":false},"axis":null},"text":{"field":"t"}}},
{"data":{"values":[{"x":2.642,"y":3.114,"t":"2"},{"x":2.63,"y":3.047,"t":"s, match"}]},"mark":{"type":"text","fontSize":20,"align":"left","baseline":"alphabetic","color":"black"},
 "encoding":{"x":{"field":"x","type":"quantitative","scale":{"domain":[1,3],"nice":false,"zero":false},"axis":null},"y":{"field":"y","type":"quantitative","scale":{"domain":[1.85,3.2],"nice":false,"zero":false},"axis":null},"text":{"field":"t"}}}
]
}
]
}
